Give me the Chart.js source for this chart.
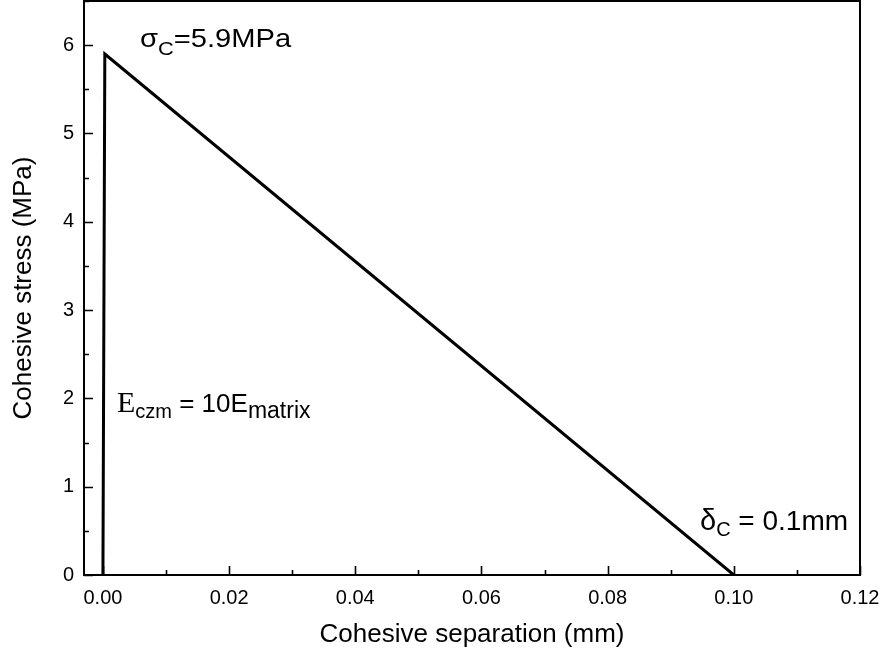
<!DOCTYPE html>
<html>
<head>
<meta charset="utf-8">
<script src="https://cdn.jsdelivr.net/npm/chart.js@4.4.1/dist/chart.umd.min.js"></script>
<style>
  html, body { margin: 0; padding: 0; background: #fff; }
  #wrap { width: 886px; height: 655px; position: relative; }
</style>
</head>
<body>
<div id="wrap"><canvas id="c"></canvas></div>
<script>
// Bilinear traction-separation law
const separation = [0, 0.0003, 0.1];      // mm
const stress     = [0, 5.9, 0];           // MPa
const xTicks = [0, 0.02, 0.04, 0.06, 0.08, 0.10, 0.12];
const yTicks = [0, 1, 2, 3, 4, 5, 6];
const sigmaC = 5.9;   // MPa
const deltaC = 0.1;   // mm
const xTitle = 'Cohesive separation (mm)';
const yTitle = 'Cohesive stress (MPa)';

const SANS = '"Liberation Sans", Arial, Helvetica, sans-serif';
const SERIF = '"Liberation Serif", "Times New Roman", serif';

// draw a run of text pieces [text, font, baselineShift, xScale] from left to right
function drawRuns(ctx, x, y, runs) {
  ctx.textAlign = 'left';
  ctx.textBaseline = 'alphabetic';
  for (const [t, font, dy, sx = 1] of runs) {
    ctx.font = font;
    ctx.save();
    ctx.translate(x, y + dy);
    ctx.scale(sx, 1);
    ctx.fillText(t, 0, 0);
    ctx.restore();
    x += ctx.measureText(t).width * sx;
  }
}

const framePlugin = {
  id: 'frame',
  afterDraw(chart) {
    const {ctx, chartArea: a, scales: {x, y}} = chart;
    ctx.save();
    ctx.strokeStyle = '#000';
    ctx.fillStyle = '#000';

    // inward tick marks, major and minor
    ctx.lineWidth = 1.6;
    ctx.beginPath();
    const xs = xTicks;
    for (let i = 0; i < xs.length; i++) {
      const px = Math.round(x.getPixelForValue(xs[i])) + 0.5;
      ctx.moveTo(px, a.bottom); ctx.lineTo(px, a.bottom - 9);
      if (i < xs.length - 1) {
        const pm = Math.round(x.getPixelForValue((xs[i] + xs[i + 1]) / 2)) + 0.5;
        ctx.moveTo(pm, a.bottom); ctx.lineTo(pm, a.bottom - 5);
      }
    }
    const ys = yTicks.concat([yTicks[yTicks.length - 1] + 1]);
    for (let i = 0; i < yTicks.length; i++) {
      const py = Math.round(y.getPixelForValue(ys[i])) + 0.5;
      ctx.moveTo(a.left, py); ctx.lineTo(a.left + 9, py);
      const mv = (ys[i] + ys[i + 1]) / 2;
      if (mv <= y.max) {
        const pm = Math.round(y.getPixelForValue(mv)) + 0.5;
        ctx.moveTo(a.left, pm); ctx.lineTo(a.left + 5, pm);
      }
    }
    ctx.stroke();

    // plot frame
    ctx.lineWidth = 2;
    ctx.strokeRect(a.left, a.top, a.right - a.left, a.bottom - a.top);

    // axis titles
    ctx.font = '26px ' + SANS;
    ctx.textAlign = 'center';
    ctx.textBaseline = 'middle';
    ctx.fillText(xTitle, (a.left + a.right) / 2, 635);
    ctx.save();
    ctx.translate(24, (a.top + a.bottom) / 2);
    ctx.rotate(-Math.PI / 2);
    ctx.fillText(yTitle, 0, 0);
    ctx.restore();

    // annotations
    drawRuns(ctx, 140, 47, [
      ['\u03C3', '26px ' + SANS, 0, 1.12],
      ['C', '19px ' + SANS, 8, 1.15],
      ['=' + sigmaC.toFixed(1) + 'MPa', '26px ' + SANS, 0, 1.12]
    ]);
    drawRuns(ctx, 117, 412, [
      ['E', '30px ' + SERIF, 0],
      ['czm', '20px ' + SANS, 6],
      [' = 10E', '26px ' + SANS, 0],
      ['matrix', '23px ' + SANS, 6]
    ]);
    drawRuns(ctx, 700, 530, [
      ['\u03B4', '29px ' + SANS, 0],
      ['C', '20px ' + SANS, 6],
      [' = ' + deltaC + 'mm', '28px ' + SANS, 0]
    ]);
    ctx.restore();
  }
};

new Chart(document.getElementById('c'), {
  type: 'line',
  data: {
    datasets: [{
      data: separation.map((v, i) => ({x: v, y: stress[i]})),
      borderColor: '#000',
      borderWidth: 3,
      borderJoinStyle: 'miter',
      pointRadius: 0,
      tension: 0,
      fill: false
    }]
  },
  options: {
    responsive: true,
    maintainAspectRatio: false,
    animation: false,
    events: [],
    layout: { padding: { top: 1, right: 26, left: 0, bottom: 0 } },
    plugins: { legend: { display: false }, tooltip: { enabled: false } },
    scales: {
      x: {
        type: 'linear',
        min: -0.003,
        max: 0.12,
        grid: { display: false, drawTicks: false },
        border: { display: false },
        afterBuildTicks(s) { s.ticks = xTicks.map(v => ({value: v})); },
        afterFit(s) { s.height = 80; s.paddingLeft = 0; s.paddingRight = 0; },
        ticks: {
          padding: 11,
          color: '#000',
          font: { family: SANS, size: 20 },
          maxRotation: 0,
          autoSkip: false,
          callback: v => Number(v).toFixed(2)
        }
      },
      y: {
        type: 'linear',
        min: 0,
        max: 6.5,
        grid: { display: false, drawTicks: false },
        border: { display: false },
        afterBuildTicks(s) { s.ticks = yTicks.map(v => ({value: v})); },
        afterFit(s) { s.width = 84; s.paddingTop = 0; s.paddingBottom = 0; },
        ticks: {
          padding: 10,
          color: '#000',
          font: { family: SANS, size: 20 },
          autoSkip: false,
          callback: v => String(v)
        }
      }
    }
  },
  plugins: [framePlugin]
});
</script>
</body>
</html>
